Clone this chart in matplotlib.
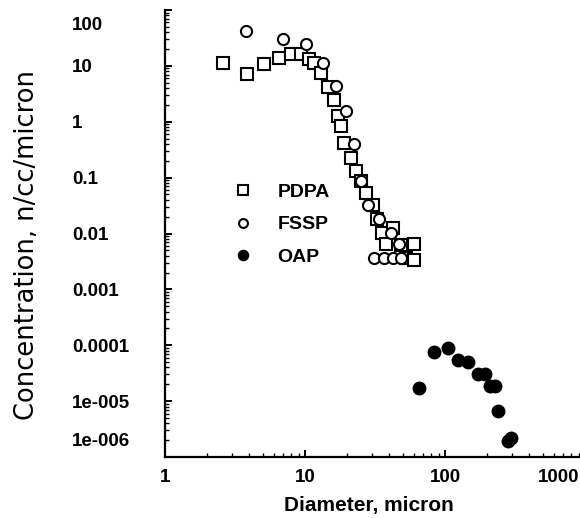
import matplotlib
matplotlib.use("Agg")
import matplotlib.pyplot as plt
from matplotlib.transforms import ScaledTranslation

# values (diameter in micron, concentration n/cc/micron)
pdpa_d = [2.6, 3.85, 5.1, 6.5, 7.9, 9.4, 10.7, 11.6, 13.0, 14.6, 16.1, 17.2, 18.1,
          19.0, 21.3, 23.1, 25.1, 27.3, 30.6, 32.7, 35.5, 37.9, 42.5, 48.5, 52.7, 60, 60]
pdpa_c = [11.3, 7.2, 10.9, 13.9, 16.4, 16.4, 13.3, 11.3, 7.5, 4.2, 2.5, 1.28, 0.85,
          0.42, 0.22, 0.133, 0.088, 0.054, 0.032, 0.0185, 0.0104, 0.0066, 0.0123,
          0.0061, 0.0036, 0.0066, 0.0033]

fssp_d = [3.79, 7.0, 10.2, 13.4, 16.6, 19.6, 22.4, 25.1, 28.2, 33.8, 41.1, 46.9,
          31.1, 36.7, 42.5, 48.5]
fssp_c = [42, 30, 24.7, 11.3, 4.4, 1.57, 0.40, 0.088, 0.032, 0.0185, 0.0104, 0.0066,
          0.0037, 0.0037, 0.0037, 0.0037]

oap_d = [65.2, 83.4, 105, 124, 146, 172, 193, 210, 228, 239, 282, 296]
oap_c = [1.71e-5, 7.5e-5, 8.8e-5, 5.4e-5, 5.0e-5, 3.0e-5, 3.0e-5, 1.85e-5, 1.85e-5,
         6.6e-6, 1.93e-6, 2.18e-6]

y_ticks = [1e2, 1e1, 1, 0.1, 0.01, 0.001, 1e-4, 1e-5, 1e-6]
y_labels = ["100", "10", "1", "0.1", "0.01", "0.001", "0.0001", "1e-005", "1e-006"]
x_ticks = [1, 10, 100, 1000]
x_labels = ["1", "10", "100", "1000"]

plt.rcParams["font.family"] = ["Liberation Sans", "DejaVu Sans"]

W, H = 580, 518
fig = plt.figure(figsize=(W / 100, H / 100), dpi=100)
# axes box in pixels: left 165, right 585, top 10, bottom 457
ax = fig.add_axes([165 / W, 1 - 457 / H, 420 / W, 447 / H])

mk = dict(ls="none", mec="black", mew=1.5, clip_on=False)
ax.plot(pdpa_d, pdpa_c, marker="s", ms=8.5, mfc="white", label="PDPA", **mk)
ax.plot(fssp_d, fssp_c, marker="o", ms=8, mfc="white", label="FSSP", **mk)
ax.plot(oap_d, oap_c, marker="o", ms=8.5, mfc="black", label="OAP", **mk)

ax.set_xscale("log")
ax.set_yscale("log")
ax.set_xlim(1, 1000)
ax.set_ylim(1e-6, 1e2)

for s in ("top", "right"):
    ax.spines[s].set_visible(False)
for s in ("left", "bottom"):
    ax.spines[s].set_linewidth(1.6)

ax.set_yticks(y_ticks)
ax.set_yticklabels(y_labels, fontweight="bold")
ax.set_xticks(x_ticks)
ax.set_xticklabels(x_labels, fontweight="bold")
ax.tick_params(which="major", direction="in", length=5, width=1.4, labelsize=13.5)
ax.tick_params(which="minor", direction="in", length=3, width=1.0)
ax.tick_params(axis="y", pad=67)
ax.tick_params(axis="x", pad=9)
plt.setp(ax.get_yticklabels(), ha="left")

# the source nudged the end labels inward
def nudge(lab, dx, dy):
    lab.set_transform(lab.get_transform() + ScaledTranslation(dx / 100, dy / 100, fig.dpi_scale_trans))

yt = ax.yaxis.get_major_ticks()
nudge(yt[0].label1, 0, -13)
nudge(yt[-1].label1, 0, 17)
xt = ax.xaxis.get_major_ticks()
nudge(xt[-1].label1, -26, 0)

fig.text(27 / W, 1 - 245 / H, "Concentration, n/cc/micron", rotation=90,
         ha="center", va="center", fontsize=18.5, family="DejaVu Sans")
fig.text(369 / W, 1 - 505 / H, "Diameter, micron", ha="center", va="center",
         fontsize=15, fontweight="bold")

ax.legend(loc="upper left", bbox_to_anchor=(233 / W, 1 - 183 / H),
          bbox_transform=fig.transFigure, frameon=False,
          prop={"size": 14, "weight": "bold"}, markerscale=0.8,
          handlelength=1.0, handletextpad=1.3, labelspacing=0.78,
          borderpad=0, borderaxespad=0)

fig.savefig("out.png", dpi=100)
